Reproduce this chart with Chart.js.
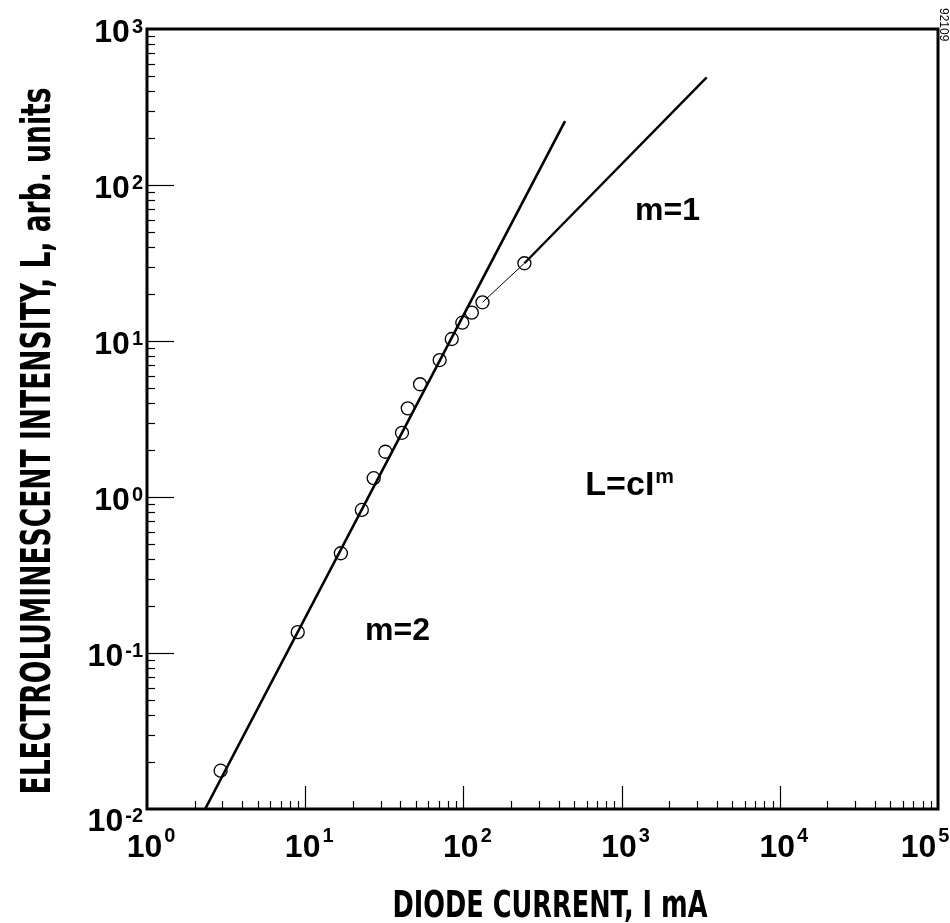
<!DOCTYPE html>
<html>
<head>
<meta charset="utf-8">
<script src="https://cdn.jsdelivr.net/npm/chart.js@4.4.1/dist/chart.umd.min.js"></script>
<style>
  html, body { margin: 0; padding: 0; background: #fff; }
  canvas { display: block; }
</style>
</head>
<body>
<canvas id="elChart" width="950" height="923"></canvas>
<script>
// Electroluminescent intensity vs diode current (log-log)

// measured points (diode current mA, intensity arb. units)
const currentMA = [2.92, 8.97, 16.8, 22.8, 27.1, 32.1, 40.9, 44.5, 53.2, 70.8, 84.4, 98.4, 113, 132, 243];
const intensity = [0.0176, 0.136, 0.436, 0.826, 1.32, 1.95, 2.58, 3.70, 5.28, 7.55, 10.3, 13.1, 15.2, 17.7, 31.5];

// fitted power-law lines
const fitM2Current = [2.33, 439];
const fitM2Intensity = [0.01, 257];
const fitM1Current = [243, 3450];
const fitM1Intensity = [31.5, 490];

// decade exponents for tick labels
const xTickExps = [0, 1, 2, 3, 4, 5];
const yTickExps = [-2, -1, 0, 1, 2, 3];

// in-plot labels, anchored in data coords
const noteText = ["m=1", "L=cI", "m=2"];
const noteSup = ["", "m", ""];
const noteAtI = [1216, 590, 23.9];
const noteAtL = [59.7, 1.03, 0.121];

const pts = (xs, ys) => xs.map((x, i) => ({ x, y: ys[i] }));

const NUM_FONT = "'Liberation Sans', Arial, Helvetica, sans-serif";
const COND_FONT = "'Liberation Sans Narrow', 'DejaVu Sans Condensed', 'Liberation Sans', sans-serif";

function drawPow(ctx, exp, xRight, xCenter, yBase, yExpBase) {
  ctx.font = "bold 32px " + NUM_FONT;
  const wb = ctx.measureText("10").width;
  const es = String(exp);
  ctx.font = "bold 20px " + NUM_FONT;
  const we = ctx.measureText(es).width;
  const total = wb + 2 + we;
  let x0 = xRight != null ? xRight - total : xCenter - total / 2;
  ctx.textAlign = "left";
  ctx.textBaseline = "alphabetic";
  ctx.font = "bold 32px " + NUM_FONT;
  ctx.fillText("10", x0, yBase);
  ctx.font = "bold 20px " + NUM_FONT;
  ctx.fillText(es, x0 + wb + 2, yExpBase);
}

function fitText(ctx, text, font, width) {
  ctx.font = font;
  const w = ctx.measureText(text).width;
  return width / w;
}

const framePlugin = {
  id: "framePlugin",
  afterDraw(chart) {
    const ctx = chart.ctx;
    const a = chart.chartArea;
    const xs = chart.scales.x, ys = chart.scales.y;
    ctx.save();
    ctx.strokeStyle = "#000";
    ctx.fillStyle = "#000";

    // inward ticks on left and bottom axes
    ctx.lineWidth = 1.2;
    for (let d = 0; d < 5; d++) {
      for (let k = 1; k < 10; k++) {
        if (d === 0 && k === 1) continue;
        const px = Math.round(xs.getPixelForValue(k * Math.pow(10, d))) + 0.5;
        const len = k === 1 ? 23 : 8;
        ctx.beginPath();
        ctx.moveTo(px, a.bottom);
        ctx.lineTo(px, a.bottom - len);
        ctx.stroke();
      }
    }
    for (let d = -2; d < 3; d++) {
      for (let k = 1; k < 10; k++) {
        if (d === -2 && k === 1) continue;
        const py = Math.round(ys.getPixelForValue(k * Math.pow(10, d))) + 0.5;
        const len = k === 1 ? 27 : 8;
        ctx.beginPath();
        ctx.moveTo(a.left, py);
        ctx.lineTo(a.left + len, py);
        ctx.stroke();
      }
    }

    // frame
    ctx.lineWidth = 3;
    ctx.strokeRect(a.left, a.top, a.right - a.left, a.bottom - a.top);

    // tick labels
    yTickExps.forEach(e => {
      const py = ys.getPixelForValue(Math.pow(10, e));
      const shift = e === -2 ? 9 : 0;
      drawPow(ctx, e, 143, null, py + 13 + shift, py + 4 + shift);
    });
    xTickExps.forEach(e => {
      let px = xs.getPixelForValue(Math.pow(10, e)) + 4;
      if (e === 5) px = 925;
      drawPow(ctx, e, null, px, a.bottom + 48, a.bottom + 33);
    });

    // notes
    noteText.forEach((t, i) => {
      const px = xs.getPixelForValue(noteAtI[i]);
      const py = ys.getPixelForValue(noteAtL[i]);
      ctx.textAlign = "left";
      ctx.font = (i === 1 ? "bold 34px " : "bold 32px ") + NUM_FONT;
      ctx.fillText(t, px, py);
      if (noteSup[i]) {
        const w = ctx.measureText(t).width;
        ctx.font = "bold 21px " + NUM_FONT;
        ctx.fillText(noteSup[i], px + w + 1, py - 12);
      }
    });

    // axis titles
    const xTitle = "DIODE CURRENT, I mA";
    const xFont = "bold 37px " + COND_FONT;
    const sx = fitText(ctx, xTitle, xFont, 315);
    ctx.save();
    ctx.translate(550, 917);
    ctx.scale(sx, 1);
    ctx.textAlign = "center";
    ctx.font = xFont;
    ctx.fillText(xTitle, 0, 0);
    ctx.restore();

    const yTitle = "ELECTROLUMINESCENT INTENSITY, L, arb. units";
    const yFont = "bold 40px " + COND_FONT;
    const sy = fitText(ctx, yTitle, yFont, 707);
    ctx.save();
    ctx.translate(50, 441);
    ctx.rotate(-Math.PI / 2);
    ctx.scale(sy, 1);
    ctx.textAlign = "center";
    ctx.font = yFont;
    ctx.fillText(yTitle, 0, 0);
    ctx.restore();

    // figure id
    ctx.save();
    ctx.translate(940, 8);
    ctx.rotate(Math.PI / 2);
    ctx.textAlign = "left";
    ctx.font = "12px " + NUM_FONT;
    ctx.fillText("92109", 0, 0);
    ctx.restore();

    ctx.restore();
  }
};

new Chart(document.getElementById("elChart"), {
  type: "scatter",
  data: {
    datasets: [
      {
        label: "measured",
        data: pts(currentMA, intensity),
        showLine: false,
        pointStyle: "circle",
        pointRadius: 6.5,
        pointBorderWidth: 1.3,
        pointBorderColor: "#000",
        pointBackgroundColor: "rgba(0,0,0,0)"
      },
      {
        label: "m=2",
        data: pts(fitM2Current, fitM2Intensity),
        showLine: true,
        borderColor: "#000",
        borderWidth: 2.6,
        pointRadius: 0
      },
      {
        label: "m=1",
        data: pts(fitM1Current, fitM1Intensity),
        showLine: true,
        borderColor: "#000",
        borderWidth: 2.4,
        pointRadius: 0
      },
      {
        label: "join",
        data: pts(currentMA.slice(13), intensity.slice(13)),
        showLine: true,
        borderColor: "#000",
        borderWidth: 1,
        pointRadius: 0
      }
    ]
  },
  options: {
    responsive: false,
    animation: false,
    devicePixelRatio: 1,
    layout: { padding: { left: 147, right: 12, top: 29, bottom: 114 } },
    plugins: {
      legend: { display: false },
      tooltip: { enabled: false }
    },
    scales: {
      x: { type: "logarithmic", min: 1, max: 100000, display: false },
      y: { type: "logarithmic", min: 0.01, max: 1000, display: false }
    }
  },
  plugins: [framePlugin]
});
</script>
</body>
</html>
